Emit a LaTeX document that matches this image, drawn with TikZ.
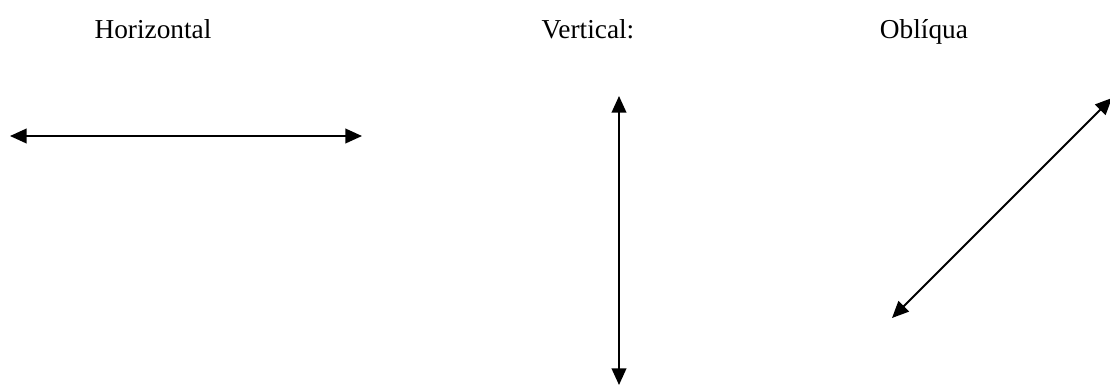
\documentclass[tikz,border=0pt]{standalone}
\usepackage{fontspec}
\setmainfont{Liberation Serif}
\usetikzlibrary{arrows.meta}

\begin{document}
\begin{tikzpicture}[x=0.75pt, y=-0.75pt, >={Triangle[length=12.5pt, width=11pt]},
  label/.style={anchor=base, font=\fontsize{20.5}{24}\selectfont},
  arrowline/.style={<->, line width=1.4pt}]
  \useasboundingbox (0,0) rectangle (1110,387);
  \node[label] (horiz) at (153,38) {Horizontal};
  \node[label] (vert) at (588,38) {Vertical:};
  \node[label] (obl) at (924,38) {Oblíqua};

  \coordinate (H1) at (10,136);
  \coordinate (H2) at (362,136);
  \coordinate (V1) at (619,96);
  \coordinate (V2) at (619,385);
  \coordinate (O1) at (892,318);
  \coordinate (O2) at (1112,98);

  \draw[arrowline] (H1) -- (H2);
  \draw[arrowline] (V1) -- (V2);
  \draw[arrowline] (O1) -- (O2);
\end{tikzpicture}
\end{document}
